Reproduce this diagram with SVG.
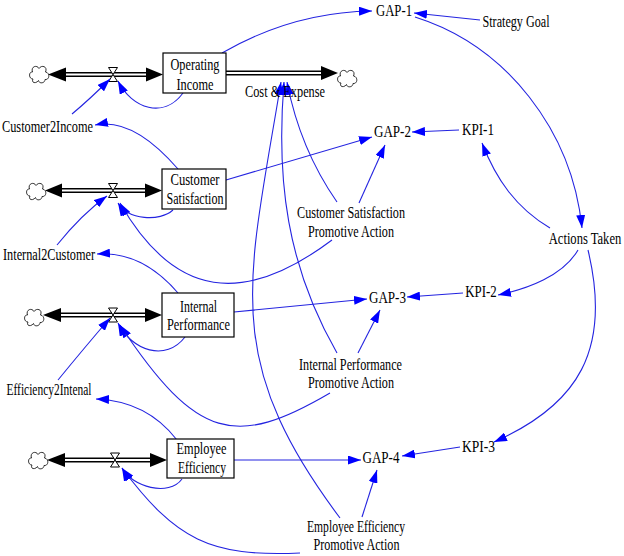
<svg xmlns="http://www.w3.org/2000/svg" width="624" height="556" viewBox="0 0 624 556">
<defs>
<style>
.t{font-family:"Liberation Serif","Times New Roman",serif;font-size:17px;fill:#000;text-anchor:middle}
.box{fill:#fff;stroke:#000;stroke-width:1.2}
.lk{fill:none;stroke:#2424e0;stroke-width:1.1;marker-end:url(#ah)}
.po{fill:none;stroke:#000;stroke-width:5}
.pi{fill:none;stroke:#fff;stroke-width:2}
.pa{fill:#000}
.vl{fill:#fff;stroke:#000;stroke-width:1}
.cl{fill:#fff;stroke:#000;stroke-width:0.8}
</style>
<marker id="ah" markerUnits="userSpaceOnUse" markerWidth="13" markerHeight="9" refX="13" refY="4.5" orient="auto">
<path d="M0,0 L13,4.5 L0,9 z" fill="#0000ff"/>
</marker>
<path id="cloud" d="M-6,5 C-10.5,5 -10.5,-2.5 -6.5,-2 C-8.5,-7.5 -2,-9.5 0,-5.5 C2.5,-9.5 9,-7.5 6.5,-2 C11,-1.5 11,6 6,5.5 C6,9.5 0,10 -0.5,6.5 C-3,10 -8,9 -6,5 Z"/>
<path id="valve" d="M-4.5,-7 L4.5,-7 L0,0 Z M-4.5,7 L4.5,7 L0,0 Z"/>
</defs>
<rect width="624" height="556" fill="#fff"/>

<g id="flows">
<line class="po" x1="60" y1="74.5" x2="150" y2="74.5"/><line class="pi" x1="60" y1="74.5" x2="150" y2="74.5"/>
<polygon class="pa" points="48,74.5 66,67.5 66,81.5"/><polygon class="pa" points="163,74.5 146,67.5 146,81.5"/>
<use href="#cloud" class="cl" x="39" y="74"/>
<use href="#valve" class="vl" x="113" y="74.5"/>

<line class="po" x1="226" y1="73" x2="325" y2="73"/><line class="pi" x1="226" y1="73" x2="325" y2="73"/>
<polygon class="pa" points="338,73 321,66 321,80"/>
<use href="#cloud" class="cl" x="347" y="78"/>

<line class="po" x1="58" y1="190.5" x2="150" y2="190.5"/><line class="pi" x1="58" y1="190.5" x2="150" y2="190.5"/>
<polygon class="pa" points="45,190.5 62,183.5 62,197.5"/><polygon class="pa" points="162,190.5 145,183.5 145,197.5"/>
<use href="#cloud" class="cl" x="36" y="191"/>
<use href="#valve" class="vl" x="113" y="190.5"/>

<line class="po" x1="56" y1="315" x2="150" y2="315"/><line class="pi" x1="56" y1="315" x2="150" y2="315"/>
<polygon class="pa" points="43,315 61,308 61,322"/><polygon class="pa" points="162,315 145,308 145,322"/>
<use href="#cloud" class="cl" x="34" y="317"/>
<use href="#valve" class="vl" x="113" y="315"/>

<line class="po" x1="60" y1="460" x2="155" y2="460"/><line class="pi" x1="60" y1="460" x2="155" y2="460"/>
<polygon class="pa" points="47,460 65,453 65,467"/><polygon class="pa" points="167,460 150,453 150,467"/>
<use href="#cloud" class="cl" x="38" y="460"/>
<use href="#valve" class="vl" x="115" y="460"/>
</g>

<g id="connectors">
<path class="lk" d="M222,53 Q293,12 372,11"/>
<path class="lk" d="M480,20 L414,13"/>
<path class="lk" d="M415,17 C507,46 572,131 582,228"/>
<path class="lk" d="M550,228 C516,208 496,179 482,143"/>
<path class="lk" d="M459,130 L412,132"/>
<path class="lk" d="M578,250 C563,276 527,289 498,295"/>
<path class="lk" d="M463,293 L407,297"/>
<path class="lk" d="M588,250 C612,350 578,405 494,442"/>
<path class="lk" d="M460,447 L402,456"/>
<path class="lk" d="M226,180 L372,137"/>
<path class="lk" d="M359,203 L385,145"/>
<path class="lk" d="M337,202 Q300,149 287,82"/>
<path class="lk" d="M337,353 C287,266 276,180 284,82"/>
<path class="lk" d="M340,518 C220,358 248,282 281,82"/>
<path class="lk" d="M332,240 C244,306 175,299 120,203"/>
<path class="lk" d="M330,393 C236,448 197,441 120,325"/>
<path class="lk" d="M300,553 C210,557 176,540 122,468"/>
<path class="lk" d="M183,93 C164,119 132,109 118,81"/>
<path class="lk" d="M173,210 C160,222 128,220 118,203"/>
<path class="lk" d="M185,337 C166,362 132,351 118,323"/>
<path class="lk" d="M182,479 C169,497 132,487 122,468"/>
<path class="lk" d="M72,114 Q90,99 110,79"/>
<path class="lk" d="M57,245 Q82,214 107,196"/>
<path class="lk" d="M58,380 Q85,347 110,318"/>
<path class="lk" d="M178,169 Q133,117 95,125"/>
<path class="lk" d="M178,293 Q142,251 97,254"/>
<path class="lk" d="M177,440 Q147,401 96,399"/>
<path class="lk" d="M234,312 L367,299"/>
<path class="lk" d="M234,460 L361,460"/>
<path class="lk" d="M358,353 L380,310"/>
<path class="lk" d="M362,517 L377,470"/>
</g>

<g id="operating-income">
<rect class="box" x="163" y="53" width="63" height="40"/>
<text class="t" x="195" y="70" textLength="49" lengthAdjust="spacingAndGlyphs">Operating</text>
<text class="t" x="195" y="90" textLength="37" lengthAdjust="spacingAndGlyphs">Income</text>
</g>
<g id="cost-expense"><text class="t" x="285" y="96.5" textLength="80" lengthAdjust="spacingAndGlyphs">Cost &amp; Expense</text></g>
<g id="customer-satisfaction">
<rect class="box" x="162" y="169" width="64" height="40"/>
<text class="t" x="195" y="185" textLength="49" lengthAdjust="spacingAndGlyphs">Customer</text>
<text class="t" x="195" y="204" textLength="57" lengthAdjust="spacingAndGlyphs">Satisfaction</text>
</g>
<g id="internal-performance">
<rect class="box" x="162" y="293" width="72" height="44"/>
<text class="t" x="198.5" y="311.5" textLength="37" lengthAdjust="spacingAndGlyphs">Internal</text>
<text class="t" x="198.5" y="330" textLength="63" lengthAdjust="spacingAndGlyphs">Performance</text>
</g>
<g id="employee-efficiency">
<rect class="box" x="167" y="439" width="67" height="39"/>
<text class="t" x="201.5" y="453.5" textLength="50" lengthAdjust="spacingAndGlyphs">Employee</text>
<text class="t" x="202" y="472.5" textLength="48" lengthAdjust="spacingAndGlyphs">Efficiency</text>
</g>
<g id="customer2income"><text class="t" x="47.5" y="131.5" textLength="91" lengthAdjust="spacingAndGlyphs">Customer2Income</text></g>
<g id="internal2customer"><text class="t" x="49" y="260" textLength="92" lengthAdjust="spacingAndGlyphs">Internal2Customer</text></g>
<g id="efficiency2intenal"><text class="t" x="49" y="395" textLength="85" lengthAdjust="spacingAndGlyphs">Efficiency2Intenal</text></g>
<g id="gap1"><text class="t" x="394" y="16" textLength="36" lengthAdjust="spacingAndGlyphs">GAP-1</text></g>
<g id="strategy-goal"><text class="t" x="516" y="26.5" textLength="67" lengthAdjust="spacingAndGlyphs">Strategy Goal</text></g>
<g id="gap2"><text class="t" x="392.5" y="137" textLength="37" lengthAdjust="spacingAndGlyphs">GAP-2</text></g>
<g id="kpi1"><text class="t" x="478" y="135" textLength="32" lengthAdjust="spacingAndGlyphs">KPI-1</text></g>
<g id="cs-promotive-action">
<text class="t" x="351" y="218" textLength="108" lengthAdjust="spacingAndGlyphs">Customer Satisfaction</text>
<text class="t" x="351" y="236.5" textLength="86" lengthAdjust="spacingAndGlyphs">Promotive Action</text>
</g>
<g id="actions-taken" transform="translate(585,244) scale(0.74,1)"><text class="t" x="0" y="0">Actions Taken</text></g>
<g id="kpi2"><text class="t" x="481" y="296.5" textLength="31.5" lengthAdjust="spacingAndGlyphs">KPI-2</text></g>
<g id="gap3"><text class="t" x="387.5" y="303" textLength="37" lengthAdjust="spacingAndGlyphs">GAP-3</text></g>
<g id="ip-promotive-action">
<text class="t" x="350.5" y="370" textLength="103" lengthAdjust="spacingAndGlyphs">Internal Performance</text>
<text class="t" x="351" y="388" textLength="86" lengthAdjust="spacingAndGlyphs">Promotive Action</text>
</g>
<g id="kpi3"><text class="t" x="478.5" y="451.5" textLength="33" lengthAdjust="spacingAndGlyphs">KPI-3</text></g>
<g id="gap4"><text class="t" x="381" y="463" textLength="37" lengthAdjust="spacingAndGlyphs">GAP-4</text></g>
<g id="ee-promotive-action">
<text class="t" x="356" y="531.5" textLength="98" lengthAdjust="spacingAndGlyphs">Employee Efficiency</text>
<text class="t" x="356.5" y="550" textLength="86" lengthAdjust="spacingAndGlyphs">Promotive Action</text>
</g>
</svg>
